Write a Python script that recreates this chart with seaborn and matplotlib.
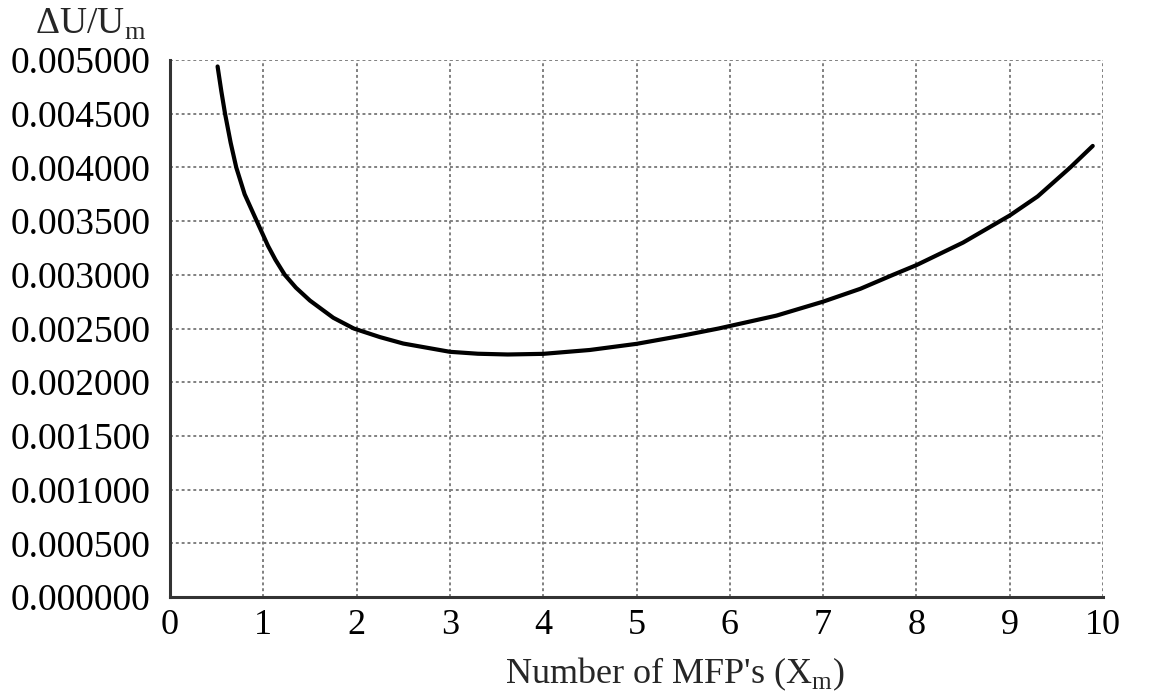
import matplotlib
matplotlib.use("Agg")
import matplotlib.pyplot as plt
import seaborn as sns
import pandas as pd

# values
mfp = [0.51, 0.55, 0.59, 0.65, 0.71, 0.80, 0.93, 1.05, 1.13, 1.23, 1.35, 1.5,
       1.75, 1.97, 2.25, 2.5, 3.0, 3.3, 3.62, 4.0, 4.5, 5.0, 5.5, 5.88, 6.5,
       7.0, 7.4, 7.75, 8.0, 8.5, 9.0, 9.3, 9.65, 9.89]
du_um = [0.00494, 0.00471, 0.00450, 0.00423, 0.00400, 0.00375, 0.00350,
         0.00327, 0.00314, 0.00300, 0.00288, 0.00276, 0.00260, 0.00250,
         0.00242, 0.00236, 0.002283, 0.002265, 0.002258, 0.002264, 0.002300,
         0.002357, 0.002435, 0.00250, 0.00262, 0.00275, 0.00287, 0.00300,
         0.00309, 0.00330, 0.003552, 0.00373, 0.00400, 0.00420]
x_ticks = list(range(0, 11))
y_ticks = [0.0, 0.0005, 0.001, 0.0015, 0.002, 0.0025, 0.003, 0.0035, 0.004, 0.0045, 0.005]

df = pd.DataFrame({"x": mfp, "y": du_um})

sns.set_style("white")
plt.rcParams["font.family"] = ["Liberation Serif", "DejaVu Serif"]
plt.rcParams["mathtext.fontset"] = "custom"
plt.rcParams["mathtext.rm"] = "Liberation Serif"

W, H = 1150, 691
fig = plt.figure(figsize=(W / 100, H / 100), dpi=100)
# axes box in pixels: left 170, right 1103, top 60, bottom 597
ax = fig.add_axes([170 / W, 1 - 597 / H, 933 / W, 537 / H])

sns.lineplot(data=df, x="x", y="y", color="black", linewidth=3, ax=ax, sort=False)

ax.set_xlim(0, 10)
ax.set_ylim(0, 0.005)
ax.set_xticks(x_ticks)
ax.set_yticks(y_ticks)
ax.set_xticklabels([str(t) for t in x_ticks])
ax.set_yticklabels([f"{t:.6f}" for t in y_ticks])
ax.tick_params(axis="both", length=6, width=2, direction="out",
               colors="#222222", labelcolor="black")
ax.tick_params(axis="x", labelsize=26, pad=3)
ax.tick_params(axis="y", labelsize=27, pad=8)

ax.grid(True, linestyle=(0, (1.5, 1.5)), color="#808080", linewidth=1.4)
for side in ["top", "right"]:
    ax.spines[side].set_visible(False)
for side in ["left", "bottom"]:
    ax.spines[side].set_linewidth(2.2)
    ax.spines[side].set_color("#333333")

ax.set_xlabel("")
ax.set_ylabel("")
fig.text(675 / W, 1 - 683 / H, "Number of MFP's (X$_{\\rm m}$)", fontsize=26,
         ha="center", va="baseline")
fig.text(0.079, 0.965, "\u0394U/U$_{\\rm m}$", fontsize=27, ha="center", va="center")

fig.savefig("out.png", dpi=100)
